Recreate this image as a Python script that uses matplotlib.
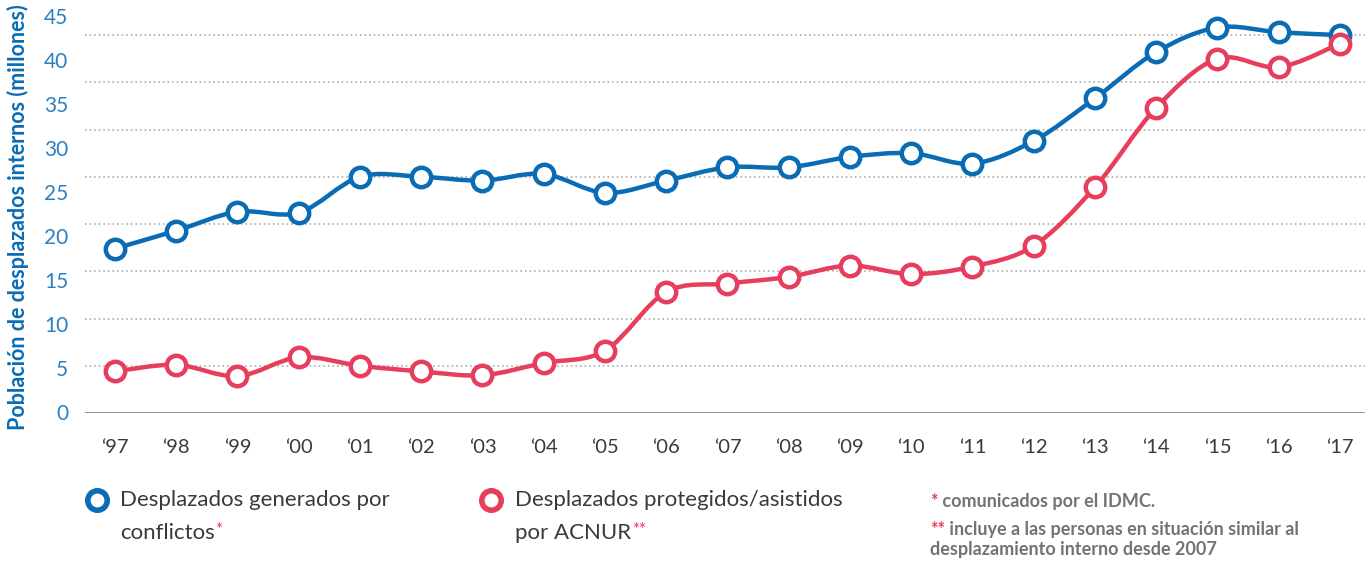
import numpy as np
import matplotlib
matplotlib.use('Agg')
import matplotlib.pyplot as plt
from matplotlib.path import Path
from matplotlib.patches import PathPatch

# data (millions)
years = list(range(1997, 2018))
year_labels = ['\u2018' + str(y)[2:] for y in years]
conflict = [17.4, 19.3, 21.3, 21.2, 25.0, 25.0, 24.6, 25.3, 23.3, 24.6, 26.0,
            26.0, 27.1, 27.5, 26.4, 28.8, 33.3, 38.2, 40.8, 40.3, 40.0]
acnur = [4.4, 5.1, 3.9, 5.9, 5.0, 4.4, 4.0, 5.3, 6.6, 12.8, 13.7,
         14.4, 15.6, 14.7, 15.5, 17.7, 23.9, 32.3, 37.5, 36.6, 39.1]
ytick_labels = [0, 5, 10, 15, 20, 25, 30, 35, 40, 45]
grid_levels = [5, 10, 15, 20, 25, 30, 35, 40]

BLUE = '#0a6cb4'
RED = '#e63e5c'
TICK_BLUE = '#2b80c3'
GREY = '#737373'
DARK = '#3a3a3a'

plt.rcParams['font.family'] = ['Lato', 'DejaVu Sans']

fig = plt.figure(figsize=(13.71, 5.63), dpi=100)
ax = fig.add_axes([85 / 1371, 150 / 563, 1280 / 1371, 411 / 563])
ax.set_xlim(1996.51, 2017.41)
ax.set_ylim(0, 43.5)


def smooth_path(xs, ys):
    # Catmull-Rom curve through the points, as cubic Bezier segments
    pts = np.column_stack([xs, ys]).astype(float)
    verts = [pts[0]]
    codes = [Path.MOVETO]
    n = len(pts)
    for i in range(n - 1):
        p0 = pts[i - 1] if i > 0 else pts[i]
        p1 = pts[i]
        p2 = pts[i + 1]
        p3 = pts[i + 2] if i + 2 < n else pts[i + 1]
        c1 = p1 + (p2 - p0) / 6.0
        c2 = p2 - (p3 - p1) / 6.0
        verts += [c1, c2, p2]
        codes += [Path.CURVE4] * 3
    return Path(verts, codes)


for level in grid_levels:
    ax.axhline(level, color='#a0a0a0', lw=1.1, ls=(0, (1, 2)), zorder=1)
ax.axhline(0, color='#8a8a8a', lw=2, zorder=1)

for series, color in [(conflict, BLUE), (acnur, RED)]:
    ax.add_patch(PathPatch(smooth_path(years, series), fill=False, edgecolor=color,
                           lw=3.2, capstyle='round', zorder=3))
    ax.plot(years, series, ls='none', marker='o', ms=14, mew=3.2,
            mfc='white', mec=color, zorder=4)

for s in ax.spines.values():
    s.set_visible(False)

ax.set_xticks(years)
ax.set_xticklabels(year_labels, fontsize=14.5, color=DARK)
ax.tick_params(axis='x', length=0, pad=19)

# the printed labels are spaced a little tighter than the gridlines
ax.set_yticks([v * 0.931 + 0.1 for v in ytick_labels])
ax.set_yticklabels([str(v) for v in ytick_labels], fontsize=15, color=TICK_BLUE)
ax.tick_params(axis='y', length=0, pad=12)

fig.text(0.013, 1 - 217 / 563, 'Población de desplazados internos (millones)', rotation=90,
         ha='center', va='center', fontsize=15.5, fontweight='bold', color=BLUE)

# legend
for xm, color in [(97, BLUE), (491, RED)]:
    ax.plot([xm / 1371], [1 - 500 / 563], transform=fig.transFigure, marker='o',
            ms=14, mew=4, mfc='white', mec=color, clip_on=False)

fig.text(120 / 1371, 1 - 500 / 563, 'Desplazados generados por', fontsize=16,
         color=DARK, va='center')
t1b = fig.text(120 / 1371, 1 - 533 / 563, 'conflictos', fontsize=16, color=DARK, va='center')
ax.annotate('*', xy=(1, 1), xycoords=t1b, xytext=(0.5, 1), textcoords='offset points',
            fontsize=12, color=RED, va='top', ha='left')
fig.text(515 / 1371, 1 - 500 / 563, 'Desplazados protegidos/asistidos', fontsize=16,
         color=DARK, va='center')
t2b = fig.text(515 / 1371, 1 - 533 / 563, 'por ACNUR', fontsize=16, color=DARK, va='center')
ax.annotate('**', xy=(1, 1), xycoords=t2b, xytext=(0.5, 1), textcoords='offset points',
            fontsize=12, color=RED, va='top', ha='left')

# footnotes
f1 = fig.text(930 / 1371, 1 - 501 / 563, '*', fontsize=13, color=RED, va='center',
              fontweight='bold')
ax.annotate(' comunicados por el IDMC.', xy=(1, 0.5), xycoords=f1, va='center',
            fontsize=13, color=GREY, fontweight='bold')
f2 = fig.text(930 / 1371, 1 - 530 / 563, '**', fontsize=13, color=RED, va='center',
              fontweight='bold')
ax.annotate(' incluye a las personas en situación similar al', xy=(1, 0.5), xycoords=f2,
            va='center', fontsize=13, color=GREY, fontweight='bold')
fig.text(930 / 1371, 1 - 550 / 563, 'desplazamiento interno desde 2007', fontsize=13,
         color=GREY, va='center', fontweight='bold')

fig.savefig('out.png', dpi=100, facecolor='white')
